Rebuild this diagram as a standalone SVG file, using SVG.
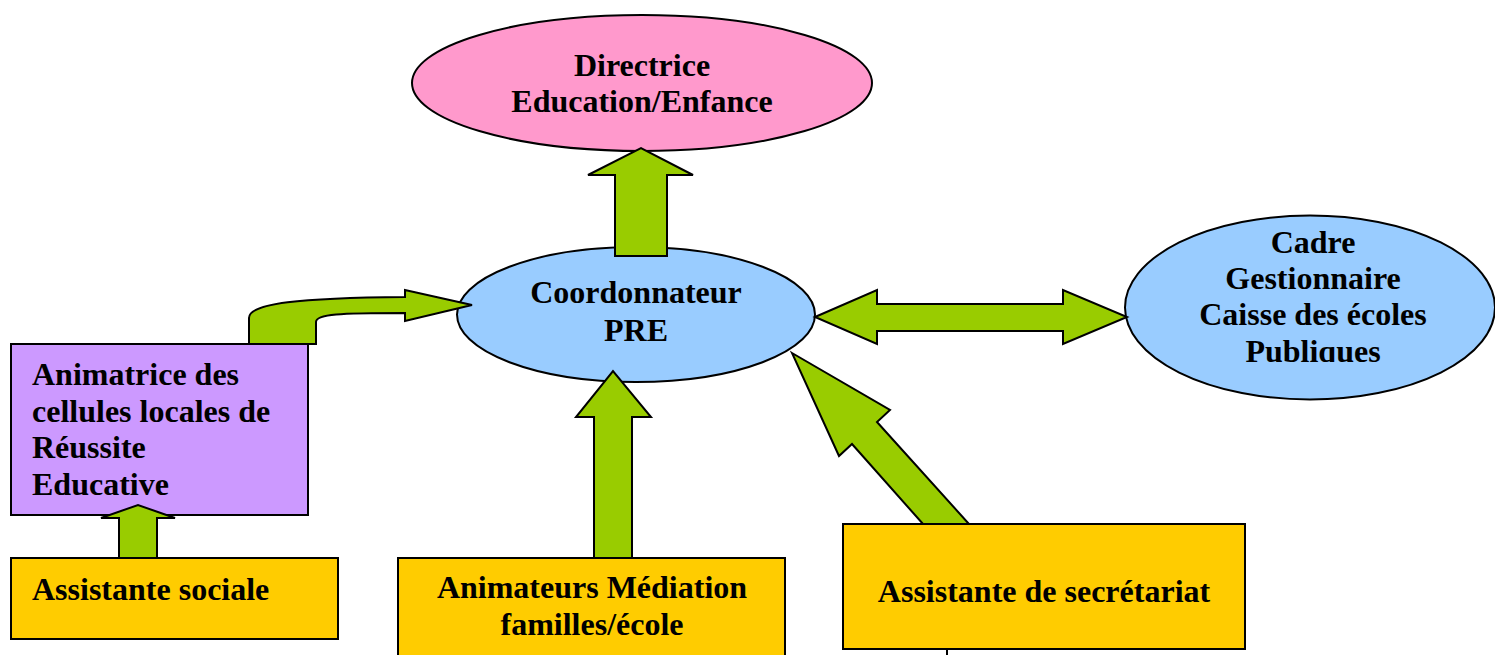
<svg xmlns="http://www.w3.org/2000/svg" width="1495" height="655" viewBox="0 0 1495 655">
<style>
.t{font-family:"Liberation Serif","Times New Roman",serif;font-weight:bold;font-size:32px;fill:#000}
.c{text-anchor:middle}
.n{stroke:#000;stroke-width:2}
.a{fill:#99cc00;stroke:#000;stroke-width:2;stroke-linejoin:miter}
</style>
<defs>
<clipPath id="clipCadre"><rect x="1100" y="200" width="395" height="162"/></clipPath>
</defs>
<rect width="1495" height="655" fill="#fff"/>
<g id="directrice">
<ellipse class="n" cx="642" cy="83" rx="230" ry="68" fill="#ff99cc"/>
<text class="t c" x="642" y="76">Directrice</text>
<text class="t c" x="642" y="112">Education/Enfance</text>
</g>
<g id="coordonnateur">
<ellipse class="n" cx="636" cy="314.5" rx="179" ry="67.5" fill="#99ccff"/>
<text class="t c" x="636" y="303">Coordonnateur</text>
<text class="t c" x="636" y="341">PRE</text>
</g>
<g id="cadre">
<ellipse class="n" cx="1310" cy="307.5" rx="185" ry="92" fill="#99ccff"/>
<g clip-path="url(#clipCadre)">
<text class="t c" x="1313" y="253">Cadre</text>
<text class="t c" x="1313" y="289">Gestionnaire</text>
<text class="t c" x="1313" y="325">Caisse des écoles</text>
<text class="t c" x="1313" y="362">Publiques</text>
</g>
</g>
<g id="animatrice">
<rect class="n" x="11" y="344" width="297" height="171" fill="#cc99ff"/>
<text class="t" x="32" y="385">Animatrice des</text>
<text class="t" x="32" y="422">cellules locales de</text>
<text class="t" x="32" y="458">Réussite</text>
<text class="t" x="32" y="495">Educative</text>
</g>
<g id="assistante-sociale">
<rect class="n" x="11" y="558" width="327" height="81" fill="#ffcc00"/>
<text class="t" x="32" y="600">Assistante sociale</text>
</g>
<g id="mediation">
<rect class="n" x="398" y="558" width="387" height="100" fill="#ffcc00"/>
<text class="t c" x="592" y="598">Animateurs Médiation</text>
<text class="t c" x="592" y="635">familles/école</text>
</g>
<g id="secretariat">
<rect class="n" x="843" y="524" width="402" height="125" fill="#ffcc00"/>
<text class="t c" x="1044" y="602">Assistante de secrétariat</text>
<line x1="947" y1="649" x2="947" y2="655" stroke="#000" stroke-width="2"/>
</g>
<g id="connectors">
<polygon class="a" points="615,256 615,175 588,175 641,148 693,175 667,175 667,256"/>
<path class="a" d="M249,344 L249,318 C249,303 300,298 405,297 L405,290 L472,305 L405,321 L405,313 C340,313 316,314 316,322 L316,344 Z"/>
<polygon class="a" points="815,317 877,290 877,304 1063,304 1063,290 1127,317 1063,344 1063,331 877,331 877,344"/>
<polygon class="a" points="792,353 890,410 877,422 969,524 923,524 852,444 839,456"/>
<polygon class="a" points="594,558 594,417 576,417 613,371 651,417 632,417 632,558"/>
<polygon class="a" points="119,558 119,518 101,518 138,505 175,518 157,518 157,558"/>
</g>
</svg>
